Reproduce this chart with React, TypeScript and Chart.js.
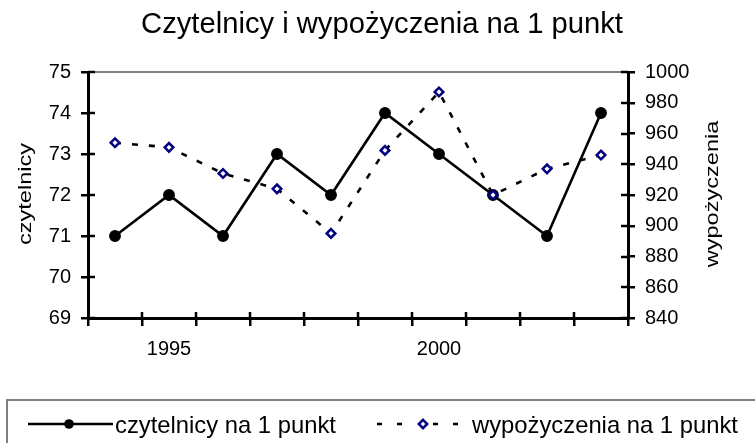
import React, { useEffect, useRef } from 'react';
import { Chart, registerables } from 'chart.js';

Chart.register(...registerables);

const years = ['1994', '1995', '1996', '1997', '1998', '1999', '2000', '2001', '2002', '2003'];
const readers = [71, 72, 71, 73, 72, 74, 73, 72, 71, 74];
const loans = [954, 951, 934, 924, 895, 949, 987, 920, 937, 946];
const labeledYears = ['1995', '2000'];
const titleText = 'Czytelnicy i wypożyczenia na 1 punkt';
const leftTitle = 'czytelnicy';
const rightTitle = 'wypożyczenia';
const readersLabel = 'czytelnicy na 1 punkt';
const loansLabel = 'wypożyczenia na 1 punkt';

const FONT = '"Liberation Sans", Arial, sans-serif';
const NAVY = '#000080';

const decor = {
  id: 'decor',
  beforeDatasetsDraw(chart: any) {
    const { ctx, chartArea: a, scales } = chart;
    ctx.save();
    // gray top border of plot area
    ctx.strokeStyle = '#808080';
    ctx.lineWidth = 2;
    ctx.beginPath();
    ctx.moveTo(a.left, a.top);
    ctx.lineTo(a.right, a.top);
    ctx.stroke();
    // inner halves of ticks
    ctx.strokeStyle = '#000';
    ctx.lineWidth = 2.5;
    ctx.beginPath();
    const y = scales.y;
    y.ticks.forEach((_: any, i: number) => {
      const py = Math.round(y.getPixelForTick(i));
      ctx.moveTo(a.left, py);
      ctx.lineTo(a.left + 7, py);
    });
    const y1 = scales.y1;
    y1.ticks.forEach((_: any, i: number) => {
      const py = Math.round(y1.getPixelForTick(i));
      ctx.moveTo(a.right, py);
      ctx.lineTo(a.right - 7, py);
    });
    const x = scales.x;
    for (let i = 1; i < years.length; i++) {
      const px = Math.round(x.getPixelForValue(i - 0.5));
      ctx.moveTo(px, a.bottom);
      ctx.lineTo(px, a.bottom - 6);
    }
    ctx.stroke();
    ctx.restore();
  },
  afterDraw(chart: any) {
    const { ctx } = chart;
    ctx.save();
    ctx.fillStyle = '#000';
    // title
    ctx.font = `29.2px ${FONT}`;
    ctx.textAlign = 'center';
    ctx.textBaseline = 'alphabetic';
    ctx.fillText(titleText, 382, 33);
    // axis titles (rotated, stretched along their length)
    const drawRot = (text: string, cx: number, cy: number) => {
      ctx.save();
      ctx.translate(cx, cy);
      ctx.rotate(-Math.PI / 2);
      ctx.scale(1.24, 1);
      ctx.font = `19px ${FONT}`;
      ctx.textAlign = 'center';
      ctx.textBaseline = 'middle';
      ctx.fillText(text, 0, 0);
      ctx.restore();
    };
    drawRot(leftTitle, 26, 194);
    drawRot(rightTitle, 712.5, 194);
    // legend box
    ctx.strokeStyle = '#808080';
    ctx.lineWidth = 2;
    ctx.strokeRect(7, 400, 800, 100);
    // legend item 1
    ctx.strokeStyle = '#000';
    ctx.lineWidth = 2.5;
    ctx.beginPath();
    ctx.moveTo(28, 424);
    ctx.lineTo(113, 424);
    ctx.stroke();
    ctx.beginPath();
    ctx.arc(69, 424, 4.8, 0, Math.PI * 2);
    ctx.fill();
    ctx.font = `23.8px ${FONT}`;
    ctx.textAlign = 'left';
    ctx.textBaseline = 'alphabetic';
    ctx.fillText(readersLabel, 115, 433);
    // legend item 2
    ctx.beginPath();
    [[377, 382], [397, 402], [433, 438], [453, 458]].forEach(([s, e]) => {
      ctx.moveTo(s, 424);
      ctx.lineTo(e, 424);
    });
    ctx.stroke();
    ctx.beginPath();
    const dx = 423, dy = 424, r = 4.2;
    ctx.moveTo(dx, dy - r);
    ctx.lineTo(dx + r, dy);
    ctx.lineTo(dx, dy + r);
    ctx.lineTo(dx - r, dy);
    ctx.closePath();
    ctx.fillStyle = '#fff';
    ctx.fill();
    ctx.strokeStyle = NAVY;
    ctx.lineWidth = 2.5;
    ctx.stroke();
    ctx.fillStyle = '#000';
    ctx.fillText(loansLabel, 472, 433);
    ctx.restore();
  },
};

export default function App() {
  const ref = useRef<HTMLCanvasElement | null>(null);

  useEffect(() => {
    document.body.style.margin = '0';
    const canvas = ref.current;
    if (!canvas) return;
    const tickFont = { family: FONT, size: 20 };
    const gridCommon = {
      drawOnChartArea: false,
      drawTicks: true,
      tickColor: '#000',
      tickWidth: 2.5,
      lineWidth: 2.5,
      color: '#000',
    };
    const chart = new Chart(canvas, {
      type: 'line',
      data: {
        labels: years,
        datasets: [
          {
            label: readersLabel,
            data: readers,
            yAxisID: 'y',
            borderColor: '#000',
            borderWidth: 2.6,
            pointStyle: 'circle',
            pointRadius: 5.2,
            pointBorderWidth: 1.5,
            pointBackgroundColor: '#000',
            pointBorderColor: '#000',
            tension: 0,
            order: 1,
            clip: false as any,
          },
          {
            label: loansLabel,
            data: loans,
            yAxisID: 'y1',
            borderColor: '#000',
            borderWidth: 2.6,
            borderDash: [6, 11],
            pointStyle: 'rectRot',
            pointRadius: 4.3,
            pointBorderWidth: 2.5,
            pointBackgroundColor: '#fff',
            pointBorderColor: NAVY,
            tension: 0,
            order: 0,
            clip: false as any,
          },
        ],
      },
      options: {
        responsive: false,
        animation: false,
        devicePixelRatio: 1,
        layout: { padding: { top: 72, left: 0, right: 0, bottom: 0 } },
        plugins: {
          legend: { display: false },
          title: { display: false },
          tooltip: { enabled: false },
        },
        scales: {
          x: {
            type: 'category',
            offset: true,
            grid: { ...gridCommon, offset: true, tickLength: 8 },
            border: { color: '#000', width: 3 },
            ticks: {
              autoSkip: false,
              maxRotation: 0,
              padding: 11,
              color: '#000',
              font: tickFont,
              callback: (_v: any, i: number) => (labeledYears.includes(years[i]) ? years[i] : ''),
            },
            afterFit: (s: any) => {
              s.height = 125;
            },
          },
          y: {
            position: 'left',
            min: 69,
            max: 75,
            ticks: {
              stepSize: 1,
              padding: 10,
              color: '#000',
              font: tickFont,
              callback: (v: any) => String(v),
            },
            grid: { ...gridCommon, tickLength: 7 },
            border: { color: '#000', width: 3 },
            afterFit: (s: any) => {
              s.width = 88;
            },
          },
          y1: {
            position: 'right',
            min: 840,
            max: 1000,
            ticks: {
              stepSize: 20,
              padding: 10,
              color: '#000',
              font: tickFont,
              callback: (v: any) => String(v),
            },
            grid: { ...gridCommon, tickLength: 7 },
            border: { color: '#000', width: 3 },
            afterFit: (s: any) => {
              s.width = 127;
            },
          },
        },
      } as any,
      plugins: [decor],
    });
    return () => chart.destroy();
  }, []);

  return (
    <div style={{ position: 'absolute', left: 0, top: 0, width: 755, height: 443, background: '#fff' }}>
      <canvas ref={ref} width={755} height={443} style={{ display: 'block' }} />
    </div>
  );
}
